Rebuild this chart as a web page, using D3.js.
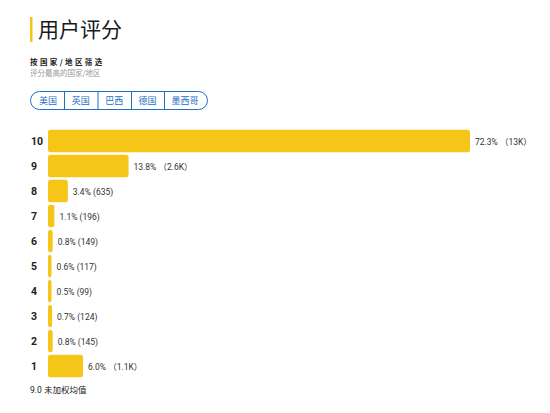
<!DOCTYPE html>
<html><head><meta charset="utf-8">
<script src="https://cdn.jsdelivr.net/npm/d3@7"></script>
<style>
html,body{margin:0;padding:0;background:#fff;}
svg{display:block;font-family:Roboto,"Noto Sans CJK SC",sans-serif;}
</style></head>
<body><svg id="c" width="550" height="413"></svg>
<script>
const ratings = ["10","9","8","7","6","5","4","3","2","1"];
const percents = [72.3,13.8,3.4,1.1,0.8,0.6,0.5,0.7,0.8,6.0];
const valueLabels = ["72.3% （13K）","13.8% （2.6K）","3.4% (635)","1.1% (196)","0.8% (149)","0.6% (117)","0.5% (99)","0.7% (124)","0.8% (145)","6.0% （1.1K）"];
const countries = ["美国","英国","巴西","德国","墨西哥"];
const title = "用户评分";
const filterTitle = "按国家/地区筛选";
const filterSub = "评分最高的国家/地区";
const footer = "9.0 未加权均值";

const svg = d3.select("#c");
const yellow = "#f5c518";
const blue = "#1f6fc5";

// title
svg.append("rect").attr("x",30).attr("y",17).attr("width",2.5).attr("height",25).attr("fill",yellow);
svg.append("text").attr("x",38).attr("y",37).attr("font-size",21).attr("fill","#1a1a1a")
  .attr("font-family","'Noto Sans CJK SC'").text(title);
svg.append("text").attr("x",30).attr("y",65).attr("font-size",7.5).attr("font-weight","bold").attr("fill","#222")
  .attr("letter-spacing",2.4).attr("font-family","'Noto Sans CJK SC'").text(filterTitle);
svg.append("text").attr("x",30).attr("y",76).attr("font-size",7.5).attr("fill","#999")
  .attr("font-family","'Noto Sans CJK SC'").text(filterSub);

// buttons
const segW = [34,33.5,33.5,33,44];
let bx = 30;
const g = svg.append("g");
g.append("rect").attr("x",30.5).attr("y",91.5).attr("width",177).attr("height",18).attr("rx",9)
  .attr("fill","none").attr("stroke",blue).attr("stroke-width",1);
countries.forEach((c,i)=>{
  if(i>0) g.append("line").attr("x1",bx+0.5).attr("x2",bx+0.5).attr("y1",92).attr("y2",109).attr("stroke",blue).attr("stroke-width",1);
  g.append("text").attr("x",bx+segW[i]/2 + (i==0?1:0) - (i==4?1:0)).attr("y",104).attr("text-anchor","middle")
    .attr("font-size",9).attr("fill",blue).attr("font-family","'Noto Sans CJK SC'").text(c);
  bx += segW[i];
});

// bars
const x = d3.scaleLinear().domain([0, 72.3]).range([0, 422]);
const y = d3.scaleBand().domain(ratings).range([128.5, 378.5]).paddingInner(0.1).paddingOuter(0.05);
const bars = svg.append("g");
ratings.forEach((r,i)=>{
  const w = Math.max(x(percents[i]), 3.5);
  const yy = y(r);
  bars.append("rect").attr("x",48).attr("y",yy).attr("width",w).attr("height",y.bandwidth())
    .attr("rx",2.5).attr("fill",yellow);
  bars.append("text").attr("x",31).attr("y",yy+y.bandwidth()/2+4).attr("font-size",10.5).attr("font-weight","bold")
    .attr("fill","#222").text(r);
  bars.append("text").attr("x",48+w+5).attr("y",yy+y.bandwidth()/2+3.5).attr("font-size",8.5)
    .attr("fill","#333").text(valueLabels[i]);
});

svg.append("text").attr("x",30).attr("y",393).attr("font-size",8.5).attr("fill","#222").text(footer);
</script></body></html>
